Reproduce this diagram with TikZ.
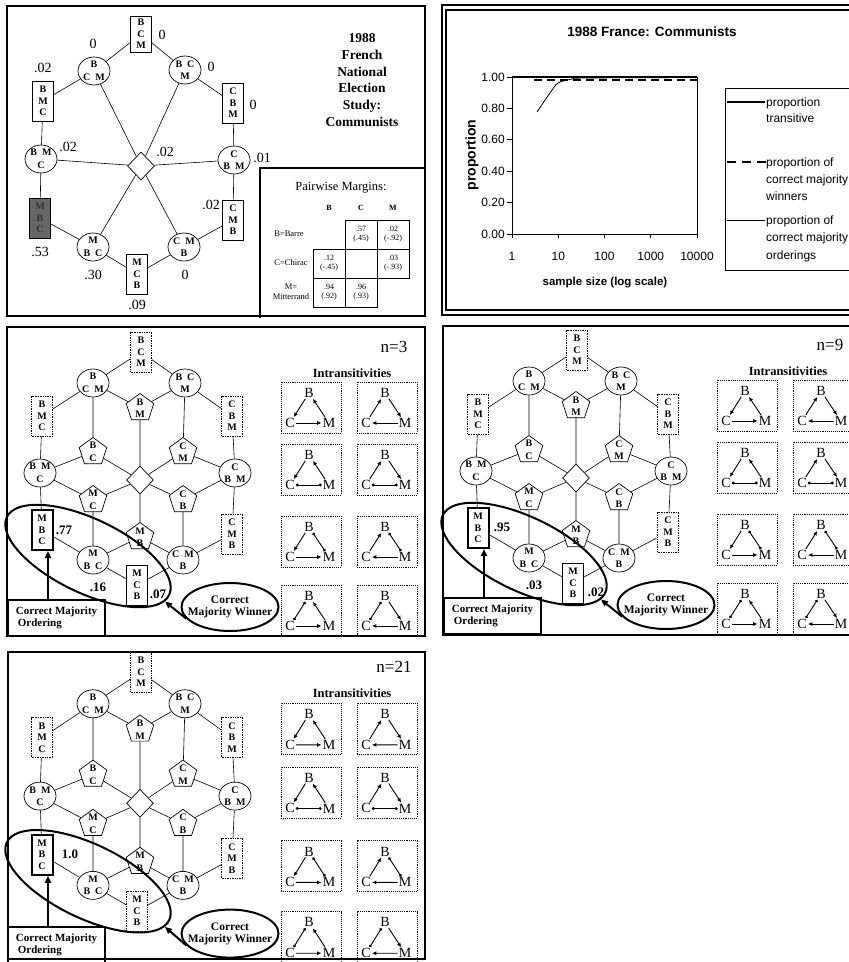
\documentclass[tikz,border=0pt]{standalone}
\usepackage{fontspec}
\setmainfont{Liberation Serif}
\newfontfamily\chartfont{Liberation Sans}
\usetikzlibrary{shapes.geometric,arrows.meta}
\newcommand\nf{\fontsize{10}{11.5}\selectfont\bfseries}
\tikzset{
  panelframe/.style={draw, line width=1.6pt},
  gb/.style={draw, line width=0.7pt, rectangle, minimum width=21pt, minimum height=40pt, inner sep=0pt, align=center, font=\nf},
  dotb/.style={gb, densely dotted, line width=0.9pt},
  thickb/.style={gb, line width=2pt},
  gc/.style={draw, line width=0.7pt, ellipse, minimum width=32pt, minimum height=28pt, inner sep=0pt, align=center, font=\nf},
  gp/.style={draw, line width=0.7pt, regular polygon, regular polygon sides=5, minimum size=29pt, inner sep=0pt},
  pl/.style={font=\nf, align=center, inner sep=0pt},
  gd/.style={draw, line width=0.7pt, diamond, minimum width=27pt, minimum height=28pt, inner sep=0pt},
  ed/.style={line width=0.6pt},
  ell/.style={draw, ellipse, line width=2pt, minimum width=180pt, minimum height=74pt, inner sep=0pt},
  cmo/.style={draw, line width=2pt, minimum width=97pt, minimum height=36pt, inner sep=0pt, align=left, font=\fontsize{11}{12.5}\selectfont\bfseries},
  cmw/.style={draw, ellipse, line width=2pt, minimum width=97pt, minimum height=48pt, inner sep=0pt},
  cmwt/.style={font=\fontsize{11.5}{12.5}\selectfont\bfseries, align=center, inner sep=0pt},
  bigarr/.style={line width=2pt, -{Triangle[length=7pt,width=6pt]}},
  ibox/.style={draw, densely dotted, line width=0.9pt, minimum width=60pt, minimum height=51pt, inner sep=0pt},
  il/.style={font=\fontsize{14}{14}\selectfont, inner sep=1pt},
  ia/.style={line width=0.9pt},
  afw/.style={-{Latex[length=4.5pt,width=4pt]}},
  abw/.style={{Latex[length=4.5pt,width=4pt]}-},
  atie/.style={{Circle[length=2.8pt]}-{Circle[length=2.8pt]}},
  lab/.style={font=\fontsize{14}{14}\selectfont, inner sep=0pt},
  blab/.style={font=\fontsize{13}{13}\selectfont\bfseries, inner sep=0pt},
  cell/.style={draw, line width=0.8pt, minimum width=32pt, minimum height=29pt, inner sep=0pt, align=center, font=\fontsize{8}{9}\selectfont},
  rowlab/.style={font=\fontsize{8.5}{9.5}\selectfont, align=center, inner sep=0pt},
  cf/.style={font=\chartfont\fontsize{12}{12}\selectfont, inner sep=0pt},
}
% hexagonal graph of panels 3-5
\newcommand\hexg[2]{%
\node[dotb] (#1bcm) at (141,352) {B\\C\\M};
\node[gc] (#1tl) at (93,383) {B\\[1pt]C\hspace{5pt}M};
\node[gc] (#1tr) at (185,383) {B\hspace{5pt}C\\[1pt]M};
\node[dotb] (#1bmc) at (42,416) {B\\M\\C};
\node[dotb] (#1cbm) at (232,416) {C\\B\\M};
\node[gp, label={[pl]center:B\\[1pt]M}] (#1pbm) at (140,408) {};
\node[gp, label={[pl]center:B\\[1pt]C}] (#1pbc) at (93,452) {};
\node[gp, label={[pl]center:C\\[1pt]M}] (#1pcm) at (183,452) {};
\node[gc] (#1lc) at (40,473) {B\hspace{5pt}M\\[1pt]C};
\node[gc] (#1rc) at (235,473) {C\\[1pt]B\hspace{5pt}M};
\node[gd] (#1dia) at (140,480) {};
\node[gp, label={[pl]center:M\\[1pt]C}] (#1pmc) at (93,500) {};
\node[gp, label={[pl]center:C\\[1pt]B}] (#1pcb) at (183,500) {};
\node[thickb] (#1mbc) at (42,530) {M\\B\\C};
\node[dotb] (#1cmb) at (232,534) {C\\M\\B};
\node[gp, label={[pl]center:M\\[1pt]B}] (#1pmb) at (140,537) {};
\node[gc] (#1bl) at (93,560) {M\\[1pt]B\hspace{5pt}C};
\node[gc] (#1br) at (183,560) {C\hspace{5pt}M\\[1pt]B};
\node[#2] (#1mcb) at (137,585) {M\\C\\B};
\draw[ed] (#1bcm) -- (#1tl) (#1bcm) -- (#1tr) (#1tl) -- (#1bmc) (#1tr) -- (#1cbm)
  (#1tl) -- (#1pbm) (#1tr) -- (#1pbm) (#1tl) -- (#1pbc) (#1tr) -- (#1pcm)
  (#1bmc) -- (#1lc) (#1cbm) -- (#1rc) (#1pbm) -- (#1dia)
  (#1lc) -- (#1pbc) (#1pbc) -- (#1dia) (#1rc) -- (#1pcm) (#1pcm) -- (#1dia)
  (#1lc) -- (#1pmc) (#1pmc) -- (#1dia) (#1rc) -- (#1pcb) (#1pcb) -- (#1dia)
  (#1dia) -- (#1pmb) (#1lc) -- (#1mbc) (#1rc) -- (#1cmb)
  (#1pmc) -- (#1bl) (#1pcb) -- (#1br) (#1mbc) -- (#1bl) (#1cmb) -- (#1br)
  (#1bl) -- (#1pmb) (#1br) -- (#1pmb) (#1bl) -- (#1mcb) (#1br) -- (#1mcb);
}
% one intransitivity box
\newcommand\intr[6]{%
\node[ibox] (#1) at ({#2+30},{#3+25.5}) {};
\node[il] (#1b) at ({#2+28},{#3+11}) {B};
\node[il] (#1c) at ({#2+9},{#3+41}) {C};
\node[il] (#1m) at ({#2+48},{#3+41}) {M};
\draw[ia,#4] (#1b) -- (#1c);
\draw[ia,#5] (#1b) -- (#1m);
\draw[ia,#6] (#1c) -- (#1m);
}
\newcommand\lowerpanel[3]{%
\hexg{#1}{#2}
\node[ell, rotate=-25.6] (#1big) at (88,556) {};
\node[cmo] (#1cmo) at (56.5,618) {Correct Majority\\\hspace*{2pt}Ordering};
\coordinate (#1ax) at ([xshift=6pt]#1mbc.south);
\draw[bigarr] (#1cmo.north -| #1ax) -- (#1ax);
\node[cmw, label={[cmwt]center:Correct\\Majority Winner}] (#1cmw) at (230,607) {};
\draw[bigarr] (#1cmw.195) -- (#1big.-5);
\node[font=\fontsize{17}{17}\selectfont, inner sep=0pt] (#1n) at (394,347) {#3};
\node[font=\fontsize{12.5}{12.5}\selectfont\bfseries, inner sep=0pt] (#1it) at (352,373) {Intransitivities};
\intr{#1ia}{281}{382}{afw}{abw}{afw}
\intr{#1ib}{357}{382}{abw}{afw}{abw}
\intr{#1ic}{281}{444}{afw}{abw}{atie}
\intr{#1id}{357}{444}{abw}{afw}{atie}
\intr{#1ie}{281}{516}{afw}{atie}{afw}
\intr{#1if}{357}{516}{abw}{atie}{abw}
\intr{#1ig}{281}{585}{atie}{abw}{afw}
\intr{#1ih}{357}{585}{atie}{afw}{abw}
}
\begin{document}
\begin{tikzpicture}[x=1pt,y=-1pt]
\useasboundingbox (0,0) rectangle (849,962);
\clip (0,0) rectangle (849,962);
\fill[white] (0,0) rectangle (849,962);

% ---------------- panel 1 ----------------
\draw[panelframe] (7,6) rectangle (425,316);
\node[gb, minimum height=36pt] (pbcm) at (141,34) {B\\C\\M};
\node[gc] (ptl) at (94,71) {B\\[1pt]C\hspace{5pt}M};
\node[gc] (ptr) at (185,70) {B\hspace{5pt}C\\[1pt]M};
\node[gb] (pbmc) at (43,101) {B\\M\\C};
\node[gb] (pcbm) at (233,103) {C\\B\\M};
\node[gc] (plc) at (41,159) {B\hspace{5pt}M\\[1pt]C};
\node[gc] (prc) at (234,160) {C\\[1pt]B\hspace{5pt}M};
\node[gd] (pdia) at (141,166) {};
\node[gb, fill=black!60, text=black!80] (pmbc) at (40,218) {M\\B\\C};
\node[gb] (pcmb) at (233,220) {C\\M\\B};
\node[gc] (pbl) at (93,247) {M\\[1pt]B\hspace{5pt}C};
\node[gc] (pbr) at (184,247) {C\hspace{5pt}M\\[1pt]B};
\node[gb] (pmcb) at (137,274) {M\\C\\B};
\draw[ed] (pbcm) -- (ptl) (pbcm) -- (ptr) (ptl) -- (pbmc) (ptr) -- (pcbm)
  (pbmc) -- (plc) (pcbm) -- (prc) (plc) -- (pmbc) (prc) -- (pcmb)
  (pmbc) -- (pbl) (pcmb) -- (pbr) (pbl) -- (pmcb) (pbr) -- (pmcb)
  (pdia) -- (ptl) (pdia) -- (ptr) (pdia) -- (plc) (pdia) -- (prc) (pdia) -- (pbl) (pdia) -- (pbr);
\node[lab] (q1) at (93,44) {0};
\node[lab] (q2) at (43,68) {.02};
\node[lab] (q3) at (162,35) {0};
\node[lab] (q4) at (211,67) {0};
\node[lab] (q5) at (253,105) {0};
\node[lab] (q6) at (68,147) {.02};
\node[lab] (q7) at (165,152) {.02};
\node[lab] (q8) at (262,158) {.01};
\node[lab] (q9) at (211,205) {.02};
\node[lab] (q10) at (40,252) {.53};
\node[lab] (q11) at (93,275) {.30};
\node[lab] (q12) at (137,305) {.09};
\node[lab] (q13) at (185,275) {0};
\node[font=\fontsize{13.5}{16.7}\selectfont\bfseries, align=center] (ttl) at (362,80)
  {1988\\French\\National\\Election\\Study:\\Communists};
% pairwise margins
\draw[line width=1.2pt] (260,318) |- (425,168);
\node[font=\fontsize{12.5}{12.5}\selectfont, inner sep=0pt] (pmt) at (341,188) {Pairwise Margins:};
\node[font=\fontsize{8}{8}\selectfont\bfseries, inner sep=0pt] (hb) at (329,208) {B};
\node[font=\fontsize{8}{8}\selectfont\bfseries, inner sep=0pt] (hc) at (361,208) {C};
\node[font=\fontsize{8}{8}\selectfont\bfseries, inner sep=0pt] (hm) at (393,208) {M};
\node[rowlab] (rb) at (289,234) {B=Barre};
\node[rowlab] (rc) at (291,263) {C=Chirac};
\node[rowlab] (rm) at (291,292) {M=\\Mitterrand};
\node[cell] (m12) at (361,234.5) {.57\\(.45)};
\node[cell] (m13) at (393,234.5) {.02\\(-.92)};
\node[cell] (m21) at (329,263.5) {.12\\(-.45)};
\node[cell] (m22) at (361,263.5) {};
\node[cell] (m23) at (393,263.5) {.03\\(-.93)};
\node[cell] (m31) at (329,292.5) {.94\\(.92)};
\node[cell] (m32) at (361,292.5) {.96\\(.93)};

% ---------------- panel 2 (chart) ----------------
\draw[line width=1.2pt] (442,5) rectangle (880,315);
\draw[line width=1.2pt] (446,10) rectangle (880,310);
\node[font=\chartfont\fontsize{13.5}{14}\selectfont\bfseries, inner sep=0pt] (ctitle) at (652,32) {1988 France: Communists};
\draw[line width=0.7pt] (512,77) rectangle (697,234);
\foreach \v/\t [count=\i] in {0/0.00,0.2/0.20,0.4/0.40,0.6/0.60,0.8/0.80,1/1.00}{
  \node[cf, anchor=east] (yl\i) at (505,{234-157*\v}) {\t};
  \draw[line width=0.7pt] (507,{234-157*\v}) -- (512,{234-157*\v});
}
\foreach \k/\t in {0/1,1/10,2/100,3/1000,4/10000}{
  \node[cf] (xl\k) at ({512+46.25*\k},256) {\t};
  \draw[line width=0.7pt] ({512+46.25*\k},234) -- ({512+46.25*\k},238);
}
\node[font=\chartfont\fontsize{14}{14}\selectfont\bfseries, rotate=90, inner sep=0pt] (ylab) at (472,155) {proportion};
\node[font=\chartfont\fontsize{11.5}{12}\selectfont\bfseries, inner sep=0pt] (xlab) at (605,283) {sample size (log scale)};
\draw[line width=2.6pt] (512,77) -- (697,77);
\draw[line width=2.6pt, dash pattern=on 8pt off 5pt] (534,80) -- (697,80);
\draw[line width=0.8pt] plot[smooth] coordinates {(537,112) (550,93) (558,83) (572,79) (585,78) (697,77.5)};
% legend
\draw[line width=0.8pt] (725,88) rectangle (880,270);
\draw[line width=2.6pt] (727,102) -- (765,102);
\node[cf, anchor=base west] (lg1) at (766,106) {proportion};
\node[cf, anchor=base west] (lg2) at (766,122) {transitive};
\draw[line width=2.6pt, dash pattern=on 9pt off 6pt] (727,162) -- (766,162);
\node[cf, anchor=base west] (lg3) at (766,166) {proportion of};
\node[cf, anchor=base west] (lg4) at (766,183) {correct majority};
\node[cf, anchor=base west] (lg5) at (766,200) {winners};
\draw[line width=0.8pt] (727,220) -- (765,220);
\node[cf, anchor=base west] (lg6) at (766,224) {proportion of};
\node[cf, anchor=base west] (lg7) at (766,241) {correct majority};
\node[cf, anchor=base west] (lg8) at (766,259) {orderings};

% ---------------- panel 3 ----------------
\draw[panelframe] (7,327) rectangle (425,636);
\begin{scope}
\lowerpanel{a}{gb}{n=3}
\node[blab] (a77) at (64,530) {.77};
\node[blab] (a16) at (98,587) {.16};
\node[blab] (a07) at (158,594) {.07};
\end{scope}

% ---------------- panel 4 ----------------
\draw[panelframe] (443,326) rectangle (880,635);
\begin{scope}[shift={(436,-2)}]
\lowerpanel{b}{gb}{n=9}
\node[blab] (b95) at (66,529) {.95};
\node[blab] (b03) at (98,587) {.03};
\node[blab] (b02) at (160,594) {.02};
\end{scope}

% ---------------- panel 5 ----------------
\draw[panelframe] (8,652) rectangle (425,959);
\begin{scope}[shift={(0,310.8)}, yscale=1.026]
\lowerpanel{c}{dotb}{n=21}
\node[blab] (c10) at (70,530) {1.0};
\end{scope}
\end{tikzpicture}
\end{document}
